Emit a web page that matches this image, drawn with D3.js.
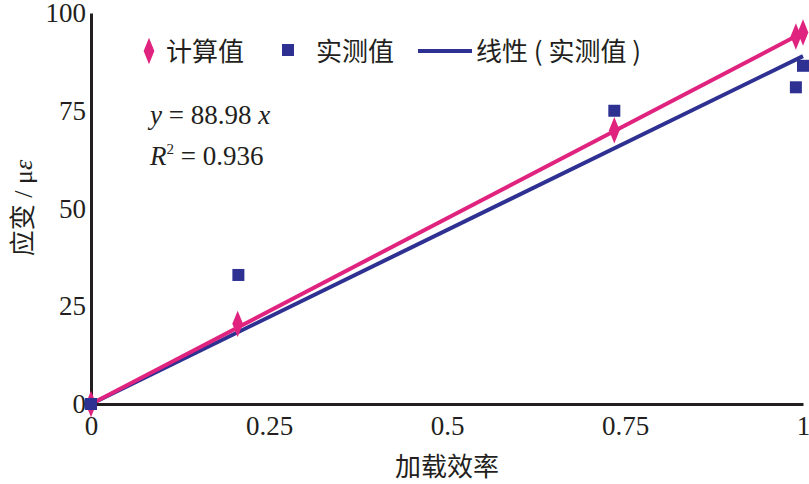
<!DOCTYPE html>
<meta charset="utf-8">
<style>
body{margin:0;background:#fff}
text{font-family:"Liberation Serif",serif;fill:#231f20}
.cjk{font-family:"Noto Sans CJK SC",sans-serif}
</style>
<svg id="c" width="809" height="484"></svg>
<script src="https://cdn.jsdelivr.net/npm/d3@7"></script>
<script>
const calcX = [0, 0.206, 0.735, 0.99, 1];
const calcY = [0, 20.5, 70, 94, 95];
const measX = [0, 0.207, 0.735, 0.99, 1];
const measY = [0, 33, 75, 81, 86.5];
const slope = 88.98;
const xTicks = [0, 0.25, 0.5, 0.75, 1];
const yTicks = [0, 25, 50, 75, 100];

const pink = "#e0237f", blue = "#2e3192";
const svg = d3.select("#c");
const x = d3.scaleLinear().domain([0, 1]).range([91, 803]);
const y = d3.scaleLinear().domain([0, 100]).range([404, 13]);

// axes
svg.append("g").attr("transform", "translate(0,404)")
  .call(d3.axisBottom(x).tickValues(xTicks).tickSize(0).tickPadding(12).tickFormat(d => d))
  .call(g => g.select(".domain").attr("stroke", "#231f20").attr("stroke-width", 3))
  .call(g => g.selectAll("text").attr("font-size", 27).attr("font-family", "Liberation Serif"));
svg.append("g").attr("transform", "translate(91,0)")
  .call(d3.axisLeft(y).tickValues(yTicks).tickSize(0).tickPadding(5))
  .call(g => g.select(".domain").attr("stroke", "#231f20").attr("stroke-width", 3))
  .call(g => g.selectAll("text").attr("font-size", 27).attr("font-family", "Liberation Serif"));

// lines
const calc = calcX.map((v, i) => [v, calcY[i]]);
const meas = measX.map((v, i) => [v, measY[i]]);
svg.append("line").attr("x1", x(0)).attr("y1", y(0)).attr("x2", x(1)).attr("y2", y(slope))
  .attr("stroke", blue).attr("stroke-width", 4);
svg.append("path").attr("d", d3.line(d => x(d[0]), d => y(d[1]))([calc[0], calc[calc.length - 1]]))
  .attr("stroke", pink).attr("stroke-width", 4).attr("fill", "none");

// markers
svg.selectAll(".d").data(calc).join("path").attr("class", "d")
  .attr("d", d3.symbol(d3.symbolDiamond, 110))
  .attr("transform", d => `translate(${x(d[0])},${y(d[1])}) scale(0.95,1.35)`).attr("fill", pink);
svg.selectAll(".s").data(meas).join("rect").attr("class", "s")
  .attr("x", d => x(d[0]) - 6).attr("y", d => y(d[1]) - 6).attr("width", 12).attr("height", 12).attr("fill", blue);

// legend
const lg = svg.append("g");
lg.append("path").attr("d", d3.symbol(d3.symbolDiamond, 110)).attr("transform", "translate(149,51) scale(0.95,1.35)").attr("fill", pink);
lg.append("text").attr("class", "cjk").attr("x", 166).attr("y", 61).attr("font-size", 26).text("计算值");
lg.append("rect").attr("x", 282).attr("y", 44).attr("width", 12).attr("height", 12).attr("fill", blue);
lg.append("text").attr("class", "cjk").attr("x", 316).attr("y", 61).attr("font-size", 26).text("实测值");
lg.append("line").attr("x1", 418).attr("x2", 472).attr("y1", 51).attr("y2", 51).attr("stroke", blue).attr("stroke-width", 4);
lg.append("text").attr("class", "cjk").attr("x", 476).attr("y", 61).attr("font-size", 26).text("线性 ( 实测值 )");

// equation
svg.append("text").attr("x", 150).attr("y", 124).attr("font-size", 27)
  .html('<tspan font-style="italic">y</tspan> = 88.98 <tspan font-style="italic">x</tspan>');
svg.append("text").attr("x", 150).attr("y", 165).attr("font-size", 27)
  .html('<tspan font-style="italic">R</tspan><tspan dy="-11" font-size="15">2</tspan><tspan dy="11"> = 0.936</tspan>');

// axis titles
svg.append("text").attr("class", "cjk").attr("x", 447).attr("y", 476).attr("text-anchor", "middle").attr("font-size", 26).text("加载效率");
svg.append("text").attr("transform", "translate(32,208) rotate(-90)").attr("text-anchor", "middle").attr("font-size", 26)
  .html('<tspan class="cjk">应变</tspan> / μ<tspan font-style="italic">ε</tspan>');
</script>
